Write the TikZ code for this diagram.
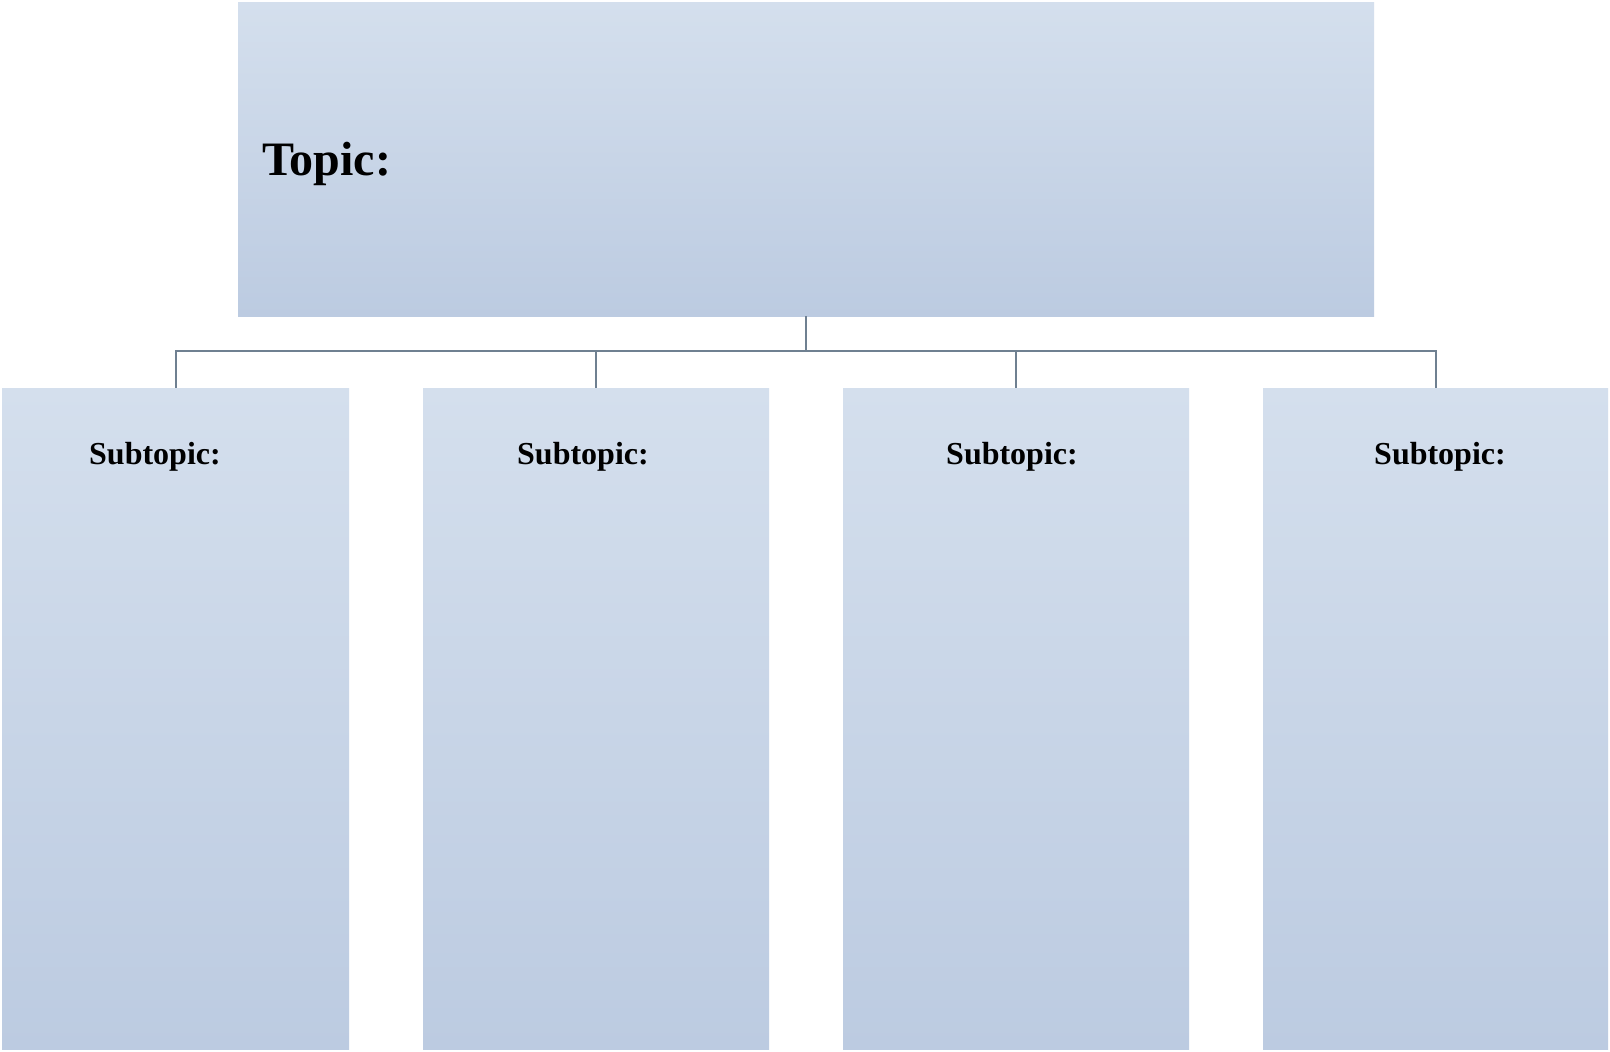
\documentclass[tikz,border=0pt]{standalone}
\usepackage{fontspec}
\setmainfont{Liberation Serif}
\begin{document}
\begin{tikzpicture}[x=1pt,y=-1pt,
  box/.style={draw=none, rectangle, inner sep=0pt, top color=boxtop, bottom color=boxbot},
  conn/.style={draw=linec, line width=2pt},
  subt/.style={anchor=base west, inner sep=0pt, font=\fontsize{32}{36}\selectfont\bfseries},
]
\definecolor{boxtop}{HTML}{D4DFED}
\definecolor{boxbot}{HTML}{BCCBE1}
\definecolor{linec}{HTML}{6F8091}
\useasboundingbox (0,0) rectangle (1610,1052);
\fill[white] (0,0) rectangle (1610,1052);
\node[box, minimum width=1136pt, minimum height=314pt] (top) at (806,159) {};
\node[box, minimum width=347pt, minimum height=661pt] (s1) at (175.5,718.5) {};
\node[box, minimum width=346pt, minimum height=661pt] (s2) at (596,718.5) {};
\node[box, minimum width=346pt, minimum height=661pt] (s3) at (1016,718.5) {};
\node[box, minimum width=345pt, minimum height=661pt] (s4) at (1435.5,718.5) {};
\node[anchor=base west, inner sep=0pt, font=\fontsize{48}{52}\selectfont\bfseries] (tt) at (262,175) {Topic:};
\node[subt] (t1) at (89,464) {Subtopic:};
\node[subt] (t2) at (517,464) {Subtopic:};
\node[subt] (t3) at (946,464) {Subtopic:};
\node[subt] (t4) at (1374,464) {Subtopic:};
\coordinate (bus) at (806,351);
\draw[conn] (top.south) -- (bus);
\draw[conn] (s1.north) |- (bus);
\draw[conn] (s4.north) |- (bus);
\draw[conn] (s2.north) -- (s2.north |- bus);
\draw[conn] (s3.north) -- (s3.north |- bus);
\end{tikzpicture}
\end{document}
